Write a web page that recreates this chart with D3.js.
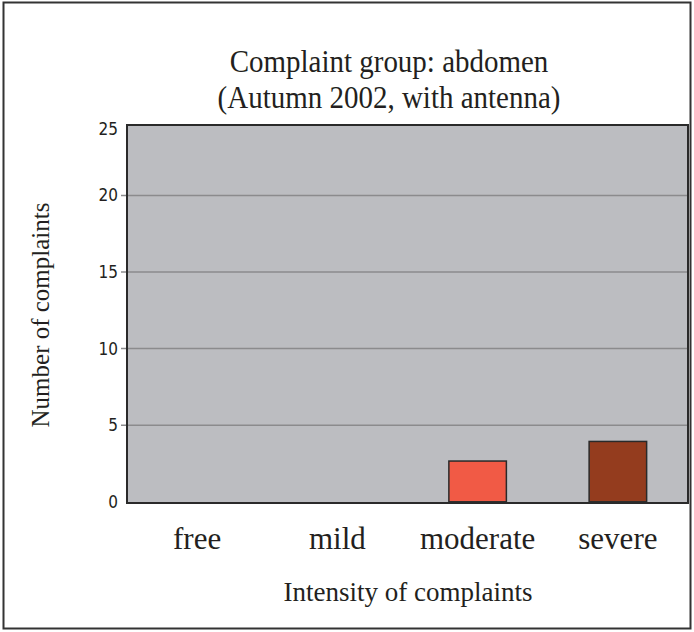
<!DOCTYPE html>
<html><head><meta charset="utf-8">
<script src="https://cdn.jsdelivr.net/npm/d3@7"></script>
<style>body{margin:0;background:#fff}svg{display:block}</style>
</head><body><svg id="c" width="694" height="632"></svg>
<script>
const categories = ["free", "mild", "moderate", "severe"];
const values = [0, 0, 2.66, 3.94];
const barColors = ["#f15a45", "#f15a45", "#f15a45", "#943c1e"];
const yTicks = [0, 5, 10, 15, 20, 25];
const titleLines = ["Complaint group: abdomen", "(Autumn 2002, with antenna)"];
const xTitle = "Intensity of complaints";
const yTitle = "Number of complaints";

const svg = d3.select("#c");
const L = 127, R = 688, T = 125, B = 503;
const serif = "'Liberation Serif','Times New Roman',serif";
const ink = "#231f20";

svg.append("rect").attr("x", 3.5).attr("y", 2.5).attr("width", 687).attr("height", 626)
  .attr("fill", "#fff").attr("stroke", "#333").attr("stroke-width", 2);

const x = d3.scaleBand().domain(categories).range([L, R]).paddingInner(0.59).paddingOuter(0.295);
const y = d3.scaleLinear().domain([0, 25]).range([501.8, 118.8]);

svg.append("rect").attr("x", L).attr("y", T).attr("width", R - L).attr("height", B - T)
  .attr("fill", "#bcbdc1");

// gridlines
svg.append("g").selectAll("line").data(yTicks.filter(d => d > 0 && d < 25)).join("line")
  .attr("x1", L - 6).attr("x2", R).attr("y1", d => y(d)).attr("y2", d => y(d))
  .attr("stroke", "#8b8b8d").attr("stroke-width", 1.5);

// y axis labels
const yAxis = d3.axisLeft(y).tickValues(yTicks).tickSize(0).tickPadding(0);
const gy = svg.append("g").attr("transform", `translate(${L - 9},0)`).call(yAxis);
gy.select(".domain").remove();
gy.selectAll("text").attr("font-family", "'DejaVu Sans Condensed','DejaVu Sans',sans-serif")
  .attr("font-size", 17).attr("fill", ink)
  .attr("y", d => d === 25 ? 10 : 0);

// bars
svg.append("g").selectAll("rect").data(categories.map((c, i) => ({c, v: values[i], col: barColors[i]})).filter(d => d.v > 0))
  .join("rect")
  .attr("x", d => x(d.c)).attr("width", x.bandwidth())
  .attr("y", d => y(d.v)).attr("height", d => y(0) - y(d.v))
  .attr("fill", d => d.col).attr("stroke", "#2a2a2a").attr("stroke-width", 1.5);

// frame
svg.append("rect").attr("x", L).attr("y", T).attr("width", R - L).attr("height", B - T)
  .attr("fill", "none").attr("stroke", "#2a2a2a").attr("stroke-width", 2);

// x axis labels
const xAxis = d3.axisBottom(x).tickSize(0).tickPadding(0);
const gx = svg.append("g").attr("transform", `translate(0,${B})`).call(xAxis);
gx.select(".domain").remove();
gx.selectAll("text").attr("font-family", serif)
  .attr("font-size", 31).attr("fill", ink).attr("dy", null).attr("y", 46);

// titles
svg.append("g").selectAll("text").data(titleLines).join("text")
  .attr("transform", (d, i) => `translate(389,${72 + i * 36}) scale(1,1.12)`)
  .attr("text-anchor", "middle")
  .attr("font-family", serif).attr("font-size", 29)
  .attr("fill", ink).text(d => d);

svg.append("text").attr("x", 408).attr("y", 601).attr("text-anchor", "middle")
  .attr("font-family", serif).attr("font-size", 27)
  .attr("fill", ink).text(xTitle);

svg.append("text").attr("transform", "translate(49,315) rotate(-90)").attr("text-anchor", "middle")
  .attr("font-family", serif).attr("font-size", 25)
  .attr("fill", ink).text(yTitle);
</script></body></html>
